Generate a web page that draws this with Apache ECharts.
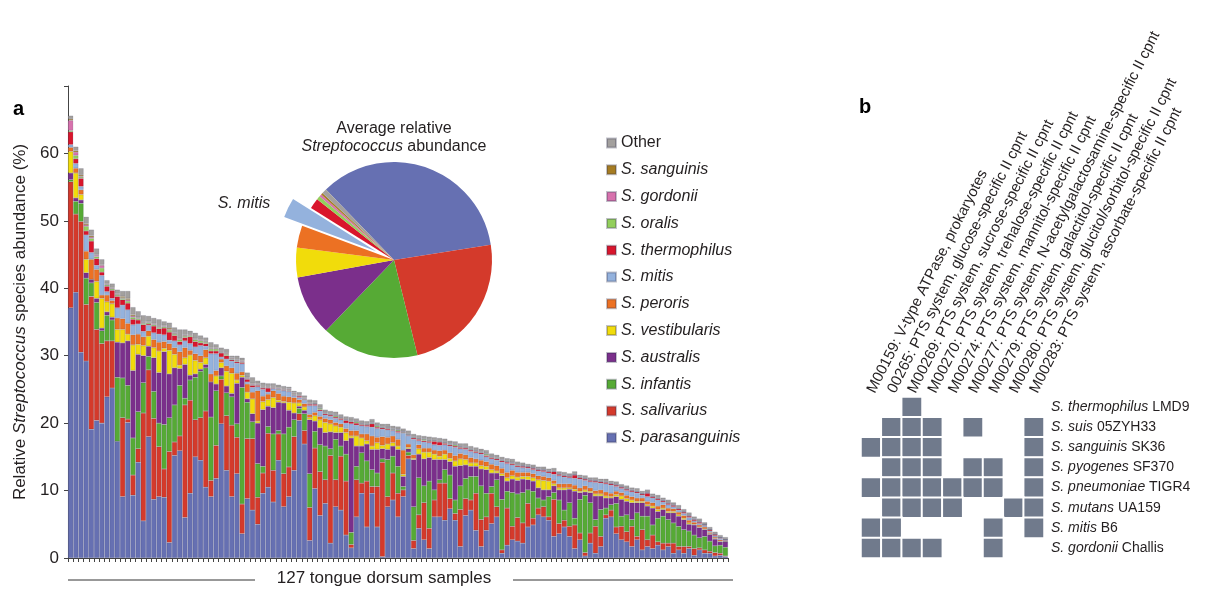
<!DOCTYPE html>
<html><head><meta charset="utf-8">
<script src="https://cdn.jsdelivr.net/npm/echarts/dist/echarts.min.js"></script>
<style>html,body{margin:0;padding:0;background:#fff}#c{width:1214px;height:590px}</style>
</head><body><div id="c"></div>
<script>
// ---------- Panel a data ----------
const speciesNames = ['S. parasanguinis','S. salivarius','S. infantis','S. australis','S. vestibularis','S. peroris','S. mitis','S. thermophilus','S. oralis','S. gordonii','S. sanguinis','Other'];
const speciesColors = ['#6670b2','#d43a2b','#56aa35','#7b2f8b','#f1dc0b','#ec7123','#94b2dd','#d9162c','#93cf5c','#d772ad','#a67c22','#a3a09e'];
const legendOrder = ['Other','S. sanguinis','S. gordonii','S. oralis','S. thermophilus','S. mitis','S. peroris','S. vestibularis','S. australis','S. infantis','S. salivarius','S. parasanguinis'];

const parasanguinis = [37.1,39.4,30.5,29.2,19.1,20.4,20.0,23.9,25.2,17.3, 9.1,20.1,9.3,14.2,5.5,18.0,8.7,9.1,9.0,2.3, 15.2,15.9,6.0,9.6,15.0,14.5,10.5,9.1,11.8,19.9, 13.0,9.1,12.5,3.6,8.8,7.1,5.0,9.6,10.5,8.3, 14.5,7.6,9.1,13.0,20.4,16.9,2.6,10.3,6.3,8.1, 2.2,7.6,7.1,3.4,1.5,6.1,9.6,4.6,9.6,4.6, 0.2,7.6,8.6,6.1,9.1,14.7,1.4,4.4,2.7,1.4, 6.1,6.1,5.6,7.3,5.6,1.7,6.3,7.1,4.1,1.7, 4.1,5.1,6.1,0.7,1.9,2.7,2.5,2.2,4.6,4.9, 6.4,6.1,5.6,3.2,3.6,4.6,3.2,1.4,2.7,0.3, 2.2,0.7,1.7,5.9,6.1,3.6,2.7,2.4,1.7,2.7, 1.2,1.7,1.4,1.9,1.2,1.7,0.7,1.2,0.7,1.4, 0.4,1.2,0.7,0.7,0.3,0.4,0.2];
const salivarius = [18.7,11.6,19.4,8.4,19.7,13.5,11.8,8.3,7.0,0.0, 11.7,0.5,3.0,2.0,16.0,9.9,12.0,7.4,4.2,13.5, 2.0,2.2,16.7,13.8,5.5,6.3,11.3,2.4,4.9,6.6, 8.1,10.6,5.4,4.4,8.9,10.6,4.0,3.0,8.0,4.7, 3.9,4.9,4.4,5.0,1.0,2.0,4.9,6.0,6.5,3.5, 13.0,4.0,8.0,8.0,0.5,5.5,1.5,6.8,1.0,6.0, 14.0,1.5,4.0,3.5,1.0,0.5,1.2,2.0,5.5,3.0, 2.5,5.0,5.5,1.5,1.0,5.5,2.5,1.5,5.5,4.0, 2.0,4.5,1.5,0.5,5.5,2.0,3.5,3.0,3.5,1.0, 1.0,1.5,0.5,5.5,1.5,1.0,1.5,3.5,1.0,0.5, 1.5,4.0,1.5,0.5,1.0,1.0,2.0,1.5,3.0,0.5, 3.0,1.0,2.0,0.5,1.0,0.5,1.5,0.5,1.0,0.3, 1.0,0.3,0.5,0.3,0.5,0.3,0.1];
const infantis = [0.3,1.9,2.7,3.9,2.0,4.0,1.9,3.8,3.1,9.5, 5.9,5.0,5.5,5.5,4.5,2.0,4.0,3.5,6.6,5.0, 5.5,7.5,1.0,3.0,6.3,6.9,6.4,9.4,8.1,0.5, 3.4,4.2,2.0,17.3,5.4,2.5,5.0,1.0,1.0,5.4, 0.5,5.9,5.9,2.5,0.8,2.5,5.0,2.5,4.0,5.0, 1.0,6.0,1.5,4.0,1.8,2.0,4.5,3.0,2.5,2.0, 0.5,5.5,2.5,4.0,0.5,0.5,5.0,5.5,2.5,7.0, 1.5,0.5,2.0,3.5,2.0,3.5,3.0,3.5,2.5,5.0, 3.5,1.0,4.0,7.5,2.5,5.0,3.5,4.5,2.0,4.0, 1.5,1.0,3.0,1.0,3.5,1.5,3.5,1.0,5.0,8.5, 4.5,1.0,4.0,1.0,0.8,3.5,1.5,2.5,1.0,3.5, 2.0,3.5,1.5,3.5,4.0,3.5,3.0,3.0,2.5,2.3, 2.0,1.5,2.0,1.5,1.0,1.2,1.3];
const australis = [1.0,0.5,0.5,0.8,0.5,0.6,0.4,0.5,0.4,5.2, 5.2,6.6,10.0,8.5,4.0,1.5,5.0,7.5,10.8,6.5, 5.5,2.5,5.0,0.7,0.5,0.3,0.5,5.2,1.0,1.2, 1.0,0.5,6.0,1.5,0.5,1.2,6.0,8.4,3.0,3.9, 4.2,4.6,2.5,1.0,0.3,0.5,8.0,1.5,2.5,2.0, 2.5,1.0,2.0,2.0,14.0,3.0,1.0,2.5,3.0,3.5, 1.5,1.5,1.5,2.5,1.5,0.5,7.0,3.5,4.0,3.5, 4.5,3.0,1.5,2.0,5.0,3.0,2.0,1.5,1.5,2.5, 3.5,2.0,1.0,3.5,1.5,2.0,2.0,2.0,1.5,1.5, 1.5,1.5,1.0,1.0,1.5,3.0,2.0,4.0,1.0,0.5, 1.5,3.5,2.0,1.5,1.0,1.0,2.5,2.0,2.5,1.5, 2.0,1.5,2.5,1.0,1.0,1.0,1.5,1.5,1.5,1.0, 1.5,1.5,1.0,1.0,1.0,0.5,0.8];
const vestibularis = [3.2,3.7,0.8,2.0,0.0,2.5,4.4,1.5,2.0,1.9, 2.0,1.0,3.8,1.5,1.5,1.5,1.5,3.2,0.5,3.5, 2.0,0.5,1.0,3.0,2.0,1.0,1.0,0.0,1.2,0.8, 2.2,3.0,0.5,0.3,1.0,2.2,0.3,1.2,1.0,1.5, 0.3,0.2,1.2,1.5,0.5,0.5,0.3,0.8,1.2,1.5, 1.2,1.0,0.8,1.2,0.3,1.5,1.2,0.5,0.5,1.0, 0.5,0.8,0.5,0.5,0.3,0.2,0.2,0.8,1.0,0.8, 0.8,0.5,0.8,0.5,0.8,1.0,0.8,0.5,0.5,0.5, 0.5,0.5,0.3,0.3,0.5,0.5,0.5,0.4,0.5,0.5, 1.2,1.4,1.3,0.3,0.3,0.3,0.2,0.3,0.2,0.3, 0.2,0.3,0.3,0.3,0.2,0.3,0.5,0.4,0.4,0.2, 0.2,0.2,0.3,0.3,0.2,0.2,0.2,0.2,0.2,0.2, 0.1,0.1,0.1,0.1,0.1,0.1,0.0];
const peroris = [0.6,0.7,0.7,1.2,3.0,1.8,0.5,1.0,0.5,1.7, 1.6,1.6,1.5,1.5,1.3,0.8,1.2,1.3,1.0,1.0, 1.0,2.0,1.5,0.7,1.0,1.0,1.2,1.2,0.8,0.5, 0.8,0.8,1.0,0.5,1.2,1.0,4.5,0.8,0.8,1.0, 1.0,0.8,0.8,0.8,0.5,0.5,0.5,0.5,0.5,0.6, 0.6,0.5,0.5,0.6,0.8,0.8,0.6,1.0,1.5,0.8, 1.3,1.0,1.0,1.0,3.6,0.5,0.5,0.6,0.6,0.6, 0.6,0.8,0.6,0.8,0.8,0.8,0.7,0.8,0.6,0.8, 0.7,0.8,0.8,0.8,0.8,0.8,0.7,0.6,0.6,0.6, 0.6,0.6,0.5,0.5,0.6,0.6,0.6,0.6,0.5,0.6, 0.5,0.5,0.6,0.6,0.5,0.5,0.5,0.5,0.5,0.5, 0.5,0.5,0.5,0.5,0.5,0.5,0.4,0.4,0.4,0.4, 0.3,0.3,0.3,0.2,0.2,0.2,0.1];
const mitis = [0.4,0.7,0.5,2.4,1.0,0.6,2.9,0.5,0.3,1.5, 2.0,2.0,1.5,1.5,0.8,0.8,1.0,1.2,1.0,0.5, 1.0,1.0,1.0,1.0,1.0,1.5,0.5,3.0,2.5,0.3, 1.0,1.0,1.5,1.2,0.3,0.7,0.6,1.0,0.3,0.3, 0.5,0.8,0.8,0.3,0.3,0.5,1.3,1.0,0.8,0.5, 0.5,0.6,0.6,0.8,1.0,0.8,1.2,1.1,1.3,1.3, 1.1,1.1,0.8,1.0,2.5,1.2,2.3,0.6,0.9,0.8, 0.8,0.8,0.8,1.0,1.2,0.7,0.8,0.9,0.9,0.9, 0.7,0.8,0.8,0.9,1.3,0.8,0.8,0.7,0.6,0.6, 0.7,0.7,0.7,0.9,1.2,1.0,0.9,1.0,1.3,0.8, 0.9,1.2,1.0,1.2,1.2,0.7,0.6,0.7,0.7,0.7, 0.4,0.7,0.7,0.9,0.4,0.5,0.3,0.3,0.3,0.4, 0.2,0.2,0.2,0.2,0.2,0.2,0.1];
const thermophilus = [1.9,0.7,1.2,0.6,1.7,1.0,0.5,0.8,1.2,1.7, 0.8,1.0,0.8,0.6,1.0,0.2,1.0,0.8,1.0,1.2, 0.8,0.5,0.5,1.0,0.8,0.4,0.4,0.4,0.4,0.6, 0.5,0.2,0.2,0.2,0.4,0.3,0.2,0.2,0.6,0.1, 0.1,0.1,0.1,0.1,0.2,0.1,0.2,0.2,0.2,0.2, 0.2,0.2,0.2,0.4,0.3,0.3,0.2,0.2,0.5,0.2, 0.2,0.2,0.1,0.2,0.1,0.1,0.2,0.2,0.2,0.2, 0.5,0.5,0.2,0.2,0.2,0.2,0.2,0.2,0.2,0.2, 0.2,0.2,0.2,0.2,0.2,0.2,0.2,0.2,0.2,0.2, 0.2,0.2,0.2,0.4,0.2,0.2,0.2,0.5,0.2,0.2, 0.2,0.2,0.2,0.2,0.2,0.2,0.2,0.2,0.2,0.2, 0.2,0.5,0.2,0.2,0.2,0.2,0.2,0.2,0.2,0.2, 0.2,0.2,0.1,0.2,0.2,0.1,0.1];
const oralis = [0.2,0.5,0.2,0.7,0.4,0.3,0.6,0.2,0.2,0.2, 0.2,0.3,0.3,0.2,0.2,0.2,0.2,0.2,0.2,0.3, 0.2,0.3,0.2,0.2,0.3,0.3,0.2,0.3,0.3,0.1, 0.2,0.1,0.1,0.1,0.1,0.1,0.1,0.1,0.1,0.1, 0.1,0.1,0.1,0.1,0.1,0.1,0.1,0.1,0.2,0.1, 0.1,0.2,0.1,0.1,0.1,0.2,0.1,0.1,0.1,0.2, 0.1,0.1,0.1,0.2,0.1,0.1,0.1,0.1,0.2,0.1, 0.1,0.1,0.1,0.1,0.2,0.1,0.1,0.1,0.1,0.1, 0.2,0.1,0.1,0.1,0.1,0.1,0.1,0.05,0.05,0.05, 0.05,0.05,0.05,0.05,0.05,0.05,0.05,0.05,0.05,0.05, 0.05,0.05,0.05,0.05,0.05,0.05,0.05,0.05,0.05,0.05, 0.05,0.05,0.05,0.05,0.05,0.05,0.05,0.05,0.05,0.05, 0.05,0.05,0.05,0.05,0.05,0.05,0.05];
const gordonii = [1.5,0.5,0.1,0.2,0.2,0.2,0.4,0.1,0.1,0.1, 0.1,0.2,0.2,0.1,0.1,0.1,0.1,0.1,0.1,0.1, 0.1,0.1,0.1,0.1,0.1,0.1,0.1,0.1,0.1,0.1, 0.1,0.1,0.1,0.1,0.1,0.1,0.1,0.1,0.1,0.1, 0.1,0.1,0.1,0.1,0.1,0.1,0.1,0.05,0.05,0.05, 0.05,0.05,0.05,0.05,0.05,0.05,0.05,0.05,0.05,0.05, 0.05,0.05,0.05,0.05,0.05,0.05,0.05,0.05,0.05,0.05, 0.05,0.05,0.05,0.05,0.05,0.05,0.05,0.05,0.05,0.05, 0.05,0.05,0.05,0.05,0.05,0.05,0.05,0.05,0.05,0.05, 0.05,0.05,0.05,0.05,0.05,0.05,0.05,0.05,0.05,0.05, 0.05,0.05,0.05,0.05,0.05,0.05,0.05,0.05,0.05,0.05, 0.05,0.05,0.05,0.05,0.05,0.05,0.05,0.05,0.05,0.05, 0.05,0.05,0.0,0.0,0.0,0.0,0.0];
const sanguinis = [0.2,0.2,0.2,0.2,0.2,0.1,0.1,0.1,0.1,0.1, 0.2,0.2,0.2,0.1,0.1,0.1,0.1,0.1,0.1,0.2, 0.1,0.1,0.1,0.1,0.1,0.1,0.1,0.1,0.1,0.1, 0.1,0.1,0.1,0.1,0.1,0.1,0.1,0.1,0.1,0.1, 0.1,0.1,0.1,0.1,0.1,0.1,0.1,0.05,0.05,0.05, 0.05,0.05,0.05,0.05,0.05,0.05,0.05,0.05,0.05,0.05, 0.05,0.05,0.05,0.05,0.05,0.05,0.05,0.05,0.05,0.05, 0.05,0.05,0.05,0.05,0.05,0.05,0.05,0.05,0.05,0.05, 0.05,0.05,0.05,0.05,0.05,0.05,0.05,0.05,0.05,0.05, 0.05,0.05,0.05,0.05,0.05,0.05,0.05,0.05,0.05,0.05, 0.05,0.05,0.05,0.05,0.05,0.05,0.05,0.05,0.05,0.05, 0.05,0.05,0.05,0.05,0.05,0.05,0.05,0.05,0.05,0.05, 0.05,0.05,0.05,0.05,0.05,0.05,0.05];
const other = [0.5,0.6,1.0,1.0,0.9,0.9,0.8,0.5,0.6,0.6, 0.8,1.1,1.1,0.9,1.0,0.8,0.8,1.0,0.6,0.8, 0.8,1.3,0.8,0.5,0.8,0.6,0.5,0.8,0.5,0.5, 0.6,0.3,0.6,0.4,0.7,0.9,0.4,0.5,0.4,0.4, 0.4,0.3,0.3,0.3,0.3,0.3,0.4,0.4,0.5,0.4, 0.4,0.5,0.4,0.4,0.5,0.4,0.4,0.4,0.5,0.4, 0.4,0.5,0.4,0.4,0.4,0.5,0.4,0.4,0.4,0.5, 0.4,0.4,0.5,0.4,0.4,0.4,0.5,0.4,0.4,0.4, 0.5,0.4,0.4,0.4,0.4,0.5,0.4,0.4,0.3,0.4, 0.3,0.4,0.3,0.4,0.3,0.4,0.3,0.4,0.3,0.4, 0.3,0.4,0.3,0.4,0.3,0.4,0.3,0.4,0.3,0.4, 0.3,0.4,0.3,0.4,0.3,0.4,0.3,0.4,0.3,0.4, 0.3,0.4,0.3,0.3,0.3,0.3,0.3];
const barValues = [parasanguinis, salivarius, infantis, australis, vestibularis, peroris, mitis, thermophilus, oralis, gordonii, sanguinis, other];
const sampleIds = parasanguinis.map((_, i) => 'T' + (i + 1));
const yTicks = [0, 10, 20, 30, 40, 50, 60];

// Pie: average relative abundance (%)
const pieShare = [34.2, 23.3, 15.8, 9.8, 4.8, 3.6, 3.2, 1.7, 0.6, 0.4, 0.3, 0.8];

// ---------- Panel b data ----------
const modules = ['M00159: V-type ATPase, prokaryotes','00265: PTS system, glucose-specific II cpnt','M00269: PTS system, sucrose-specific II cpnt','M00270: PTS system, trehalose-specific II cpnt','M00274: PTS system, mannitol-specific II cpnt','M00277: PTS system, N-acetylgalactosamine-specific II cpnt','M00279: PTS system, galactitol-specific II cpnt','M00280: PTS system, glucitol/sorbitol-specific II cpnt','M00283: PTS system, ascorbate-specific II cpnt'];
const strainSpecies = ['S. thermophilus','S. suis','S. sanguinis','S. pyogenes','S. pneumoniae','S. mutans','S. mitis','S. gordonii'];
const strainIds = ['LMD9','05ZYH33','SK36','SF370','TIGR4','UA159','B6','Challis'];
const presence = [
  [0,0,1,0,0,0,0,0,0],
  [0,1,1,1,0,1,0,0,1],
  [1,1,1,1,0,0,0,0,1],
  [0,1,1,1,0,1,1,0,1],
  [1,1,1,1,1,1,1,0,1],
  [0,1,1,1,1,0,0,1,1],
  [1,1,0,0,0,0,1,0,1],
  [1,1,1,1,0,0,1,0,0]
];

const FONT = '"Liberation Sans", Arial, Helvetica, sans-serif';
const TXT = '#231f20';

const chart = echarts.init(document.getElementById('c'), null, {renderer: 'canvas'});

const heatData = [];
presence.forEach((row, r) => row.forEach((v, c) => { if (v) heatData.push([c, r, v]); }));

const barSeries = speciesNames.map((n, k) => ({
  type: 'bar', name: n, stack: 'total', xAxisIndex: 0, yAxisIndex: 0,
  data: barValues[k], barCategoryGap: '0%', barGap: '0%', silent: true,
  itemStyle: {color: speciesColors[k], borderColor: 'rgba(40,40,70,0.28)', borderWidth: 0.5}
}));

const pieSeries = {
  type: 'pie', center: [394, 260], radius: 98, startAngle: 134, clockwise: true,
  selectedMode: 'single', selectedOffset: 20, silent: true, animation: false,
  emphasis: {disabled: true},
  label: {show: false},
  labelLine: {show: false, length: 10, length2: 4},
  data: speciesNames.map((n, i) => ({
    name: n, value: pieShare[i], selected: n === 'S. mitis',
    itemStyle: {color: speciesColors[i]},
    label: {show: n === 'S. mitis', position: 'outside', formatter: '{b}', fontStyle: 'italic', fontSize: 16, color: TXT, fontFamily: FONT, padding: [12, 0, 0, 0]}
  }))
};

const heatSeries = {
  type: 'heatmap', xAxisIndex: 1, yAxisIndex: 1, data: heatData, silent: true,
  itemStyle: {borderColor: '#ffffff', borderWidth: 2}
};

const option = {
  animation: false,
  textStyle: {fontFamily: FONT, color: TXT},
  grid: [
    {left: 68, top: 86, width: 660, height: 472},
    {left: 861, top: 397, width: 183, height: 161}
  ],
  xAxis: [
    {type: 'category', gridIndex: 0, data: sampleIds,
     axisLine: {show: true, lineStyle: {color: '#444', width: 1}},
     axisTick: {show: true, interval: 0, length: 4, lineStyle: {color: '#444'}},
     axisLabel: {show: false}, splitLine: {show: false}},
    {type: 'category', gridIndex: 1, data: modules, position: 'top',
     axisLine: {show: false}, axisTick: {show: false}, splitLine: {show: false},
     axisLabel: {interval: 0, rotate: -63, margin: 5, fontSize: 15, color: TXT, fontFamily: FONT}}
  ],
  yAxis: [
    {type: 'value', gridIndex: 0, min: 0, max: 70, interval: 10,
     axisLine: {show: true, lineStyle: {color: '#444', width: 1}},
     axisTick: {show: true, length: 4, lineStyle: {color: '#444'}},
     splitLine: {show: false},
     axisLabel: {fontSize: 17, color: TXT, margin: 9, fontFamily: FONT,
       formatter: v => (yTicks.indexOf(v) >= 0 ? String(v) : '')},
     name: 'Relative {i|Streptococcus} species abundance (%)',
     nameLocation: 'middle', nameGap: 38, nameRotate: 90,
     nameTextStyle: {fontSize: 17, color: TXT, fontFamily: FONT,
       rich: {i: {fontStyle: 'italic', fontSize: 17, color: TXT, fontFamily: FONT}}}},
    {type: 'category', gridIndex: 1, inverse: true, position: 'right',
     data: strainSpecies.map((s, i) => s + '|' + strainIds[i]),
     axisLine: {show: false}, axisTick: {show: false}, splitLine: {show: false},
     axisLabel: {interval: 0, margin: 7, fontSize: 14, color: TXT, fontFamily: FONT,
       formatter: v => { const p = v.split('|'); return '{i|' + p[0] + '} ' + p[1]; },
       rich: {i: {fontStyle: 'italic', fontSize: 14, color: TXT, fontFamily: FONT}}}}
  ],
  visualMap: {show: false, type: 'continuous', seriesIndex: speciesNames.length + 1, min: 0, max: 1,
    inRange: {color: ['#707a8c', '#707a8c']}},
  legend: {
    data: legendOrder, orient: 'vertical', left: 601, top: 129,
    icon: 'rect', itemWidth: 9, itemHeight: 9, itemGap: 8.8, selectedMode: false,
    textStyle: {fontSize: 16, color: TXT, fontFamily: FONT, lineHeight: 18,
      rich: {i: {fontStyle: 'italic', fontSize: 16, color: TXT, fontFamily: FONT, lineHeight: 18}}},
    formatter: n => (n === 'Other' ? n : '{i|' + n + '}')
  },
  graphic: [
    {type: 'text', left: 13, top: 99, style: {text: 'a', font: 'bold 20px ' + FONT, fill: '#000'}},
    {type: 'text', left: 859, top: 97, style: {text: 'b', font: 'bold 20px ' + FONT, fill: '#000'}},
    {type: 'text', x: 394, y: 120, style: {
      text: '{n|Average relative}\n{i|Streptococcus}{n| abundance}', align: 'center',
      rich: {n: {fontSize: 16, fontFamily: FONT, fill: TXT, lineHeight: 18},
             i: {fontSize: 16, fontFamily: FONT, fill: TXT, fontStyle: 'italic', lineHeight: 18}}}},
    {type: 'text', x: 384, y: 570, style: {text: '127 tongue dorsum samples', align: 'center',
      font: '17px ' + FONT, fill: TXT}},
    {type: 'line', shape: {x1: 68, y1: 580, x2: 255, y2: 580}, style: {stroke: '#333', lineWidth: 1}},
    {type: 'line', shape: {x1: 513, y1: 580, x2: 733, y2: 580}, style: {stroke: '#333', lineWidth: 1}}
  ],
  series: [...barSeries, pieSeries, heatSeries]
};
chart.setOption(option);
</script></body></html>
